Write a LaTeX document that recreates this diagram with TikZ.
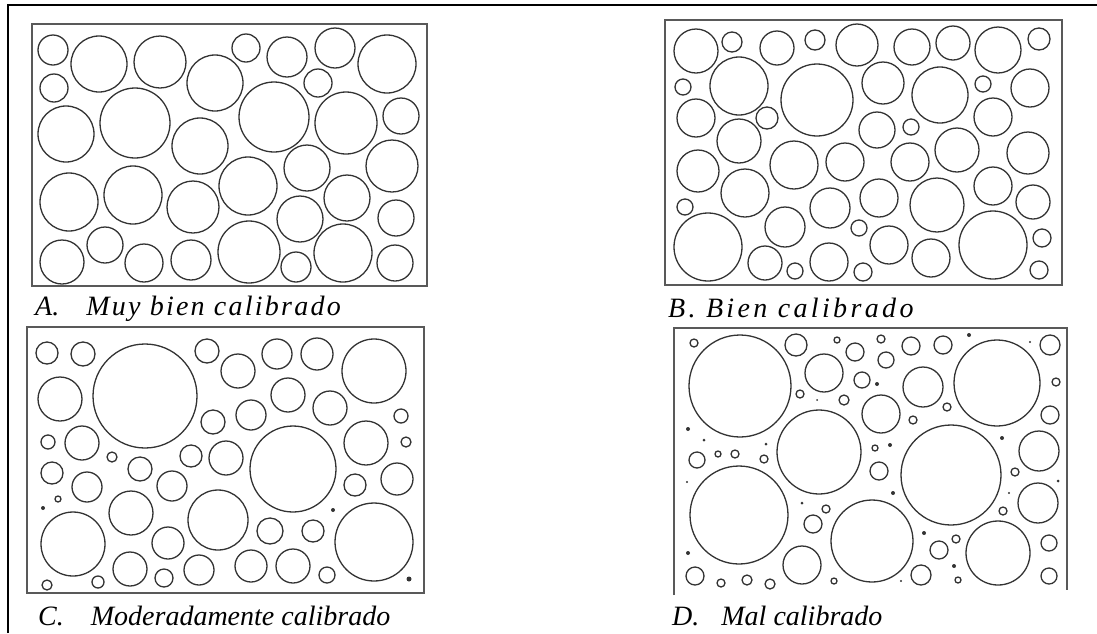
\documentclass[tikz,border=0pt]{standalone}
\usepackage{fontspec}
\setmainfont{Liberation Serif}

\begin{document}
\begin{tikzpicture}[x=1pt, y=-1pt,
    grain/.style={draw=black!80, line width=1.3pt},
    speck/.style={fill=black!80},
    panel/.style={draw=black!65, line width=1.6pt},
    caption/.style={anchor=base west, inner sep=0pt, font=\fontsize{28}{32}\selectfont\itshape}]
    \useasboundingbox (0,0) rectangle (1097,633);
    % outer frame
    \draw[line width=1.5pt] (8,633) -- (8,5) -- (1097,5);

    % A. very well sorted
    \draw[panel] (32,24) rectangle (427,286);
    \foreach \x/\y/\r in {53/50/15, 99/64/28, 160/62/26, 215/83/28, 54/88/14, 66/134/28, 135/123/35,
        200/146/28, 69/202/29, 133/195/29, 193/207/26, 248/186/29, 62/262/22, 105/245/18, 144/263/19,
        191/260/20, 249/252/31, 246/48/14, 287/57/20, 335/48/20, 387/64/29, 318/83/14, 274/117/35,
        346/123/31, 401/116/18, 307/168/23, 392/166/26, 347/198/23, 300/219/23, 396/218/18,
        296/267/15, 343/253/29, 395/263/18}
        \draw[grain] (\x,\y) circle (\r pt);
    \node[caption] (capA) at (35,315) {A.\hspace{27pt}\addfontfeature{LetterSpace=8}Muy bien calibrado};

    % B. well sorted
    \draw[panel] (665,20) rectangle (1062,285);
    \foreach \x/\y/\r in {696/51/22, 732/42/10, 777/48/17, 815/40/10, 857/45/21, 683/87/8, 739/86/29,
        817/100/36, 696/118/19, 767/118/11, 739/141/22, 698/171/21, 794/165/24, 845/162/19, 745/193/24,
        685/207/8, 830/208/20, 785/227/20, 859/228/8, 708/247/34, 765/263/17, 795/271/8, 829/262/19,
        863/272/9, 912/47/18, 953/43/17, 998/50/23, 1039/39/11, 883/83/21, 940/95/28, 983/84/8,
        1030/88/19, 877/130/18, 911/127/8, 993/117/19, 910/162/19, 957/150/22, 1028/153/21,
        879/198/19, 937/205/27, 993/186/19, 1033/202/17, 889/245/19, 931/258/19, 993/245/34,
        1042/238/9, 1039/270/9}
        \draw[grain] (\x,\y) circle (\r pt);
    \node[caption] (capB) at (668,317) {\addfontfeature{LetterSpace=12}B. Bien calibrado};

    % C. moderately sorted
    \draw[panel] (27,327) rectangle (424,593);
    \foreach \x/\y/\r in {47/353/11, 83/354/12, 145/396/52, 207/351/12, 238/371/17, 60/399/22,
        213/422/12, 48/442/7, 82/443/17, 112/457/5, 191/456/11, 226/458/17, 218/520/30, 52/473/11,
        87/487/15, 140/469/12, 172/486/15, 58/499/3, 131/513/22, 73/544/32, 168/543/16, 130/569/17,
        199/570/15, 164/578/9, 98/582/6, 47/585/5, 277/354/15, 317/354/16, 374/371/32, 288/395/17,
        330/408/17, 251/415/15, 401/416/7, 366/443/22, 406/442/5, 293/469/43, 355/485/11,
        397/479/16, 374/542/39, 270/531/13, 313/531/11, 251/566/16, 293/566/17, 327/575/8}
        \draw[grain] (\x,\y) circle (\r pt);
    \foreach \x/\y/\r in {43/508/2, 333/510/2, 409/579/2.5}
        \fill[speck] (\x,\y) circle (\r pt);
    \node[caption] (capC) at (38,625) {C.\hspace{27pt}Moderadamente calibrado};

    % D. poorly sorted
    \draw[panel] (674,595) -- (674,328) -- (1067,328) -- (1067,590);
    \foreach \x/\y/\r in {694/343/4, 740/386/51, 796/345/11, 837/340/3, 855/352/9, 824/373/19,
        862/380/8, 800/394/4, 844/400/5, 819/452/42, 697/460/8, 718/454/3, 735/454/4, 764/459/4,
        739/515/49, 826/509/4, 813/524/9, 872/541/41, 802/565/19, 695/576/9, 721/583/4, 747/580/5,
        770/584/5, 834/581/3, 881/339/4, 911/346/9, 943/345/9, 997/383/43, 1050/345/10, 886/360/8,
        923/387/20, 881/414/19, 947/407/4, 913/420/4, 1056/382/4, 1050/415/9, 951/475/50,
        1039/451/20, 875/448/3, 879/471/9, 1015/472/4, 1038/503/20, 1003/511/4, 956/539/4,
        939/550/9, 998/553/32, 1049/543/8, 921/575/10, 958/580/3, 1049/576/8}
        \draw[grain] (\x,\y) circle (\r pt);
    \foreach \x/\y/\r in {688/429/2, 704/440/1.5, 766/444/1.5, 687/482/1.2, 802/503/1.5, 688/553/2,
        969/335/2, 1030/342/1.2, 877/384/2, 1002/438/2, 890/445/2, 1058/481/1.5, 1009/493/1.2,
        893/493/2, 924/533/2, 954/566/2, 901/581/1.2, 817/400/1}
        \fill[speck] (\x,\y) circle (\r pt);
    \node[caption] (capD) at (672,625) {D.\hspace{22pt}Mal calibrado};
\end{tikzpicture}
\end{document}
